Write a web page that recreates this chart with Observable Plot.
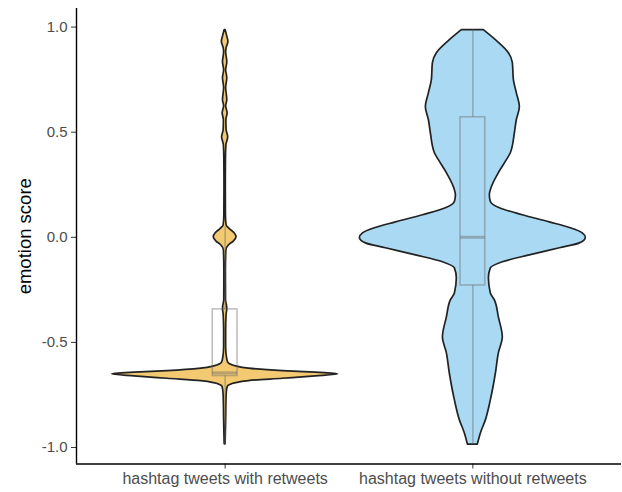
<!DOCTYPE html>
<html>
<head>
<meta charset="utf-8">
<script src="https://cdn.jsdelivr.net/npm/d3@7"></script>
<script src="https://cdn.jsdelivr.net/npm/@observablehq/plot@0.6"></script>
<style>
  html, body { margin: 0; padding: 0; background: white; }
</style>
</head>
<body>
<div id="chart"></div>
<script>
// ---- data ----
const groups = ["hashtag tweets with retweets", "hashtag tweets without retweets"];
const groupPos = [1, 2];
const fills = ["#F3C972", "#AAD9F3"];

// violin profile: emotion score vs. relative density (max = 1)
const withRetweetsY = [0.986, 0.957, 0.929, 0.9, 0.881, 0.833, 0.795, 0.757, 0.71, 0.652, 0.624, 0.59, 0.557, 0.51, 0.476, 0.438, 0.367, 0.224, 0.105, 0.057, 0.038, 0.019, 0.0, -0.019, -0.038, -0.062, -0.157, -0.3, -0.324, -0.343, -0.367, -0.443, -0.514, -0.548, -0.571, -0.595, -0.614, -0.625, -0.637, -0.644, -0.652, -0.662, -0.673, -0.684, -0.694, -0.713, -0.752, -0.871, -0.985];
const withRetweetsDensity = [0.004, 0.018, 0.029, 0.013, 0.009, 0.019, 0.009, 0.019, 0.009, 0.019, 0.009, 0.022, 0.011, 0.013, 0.027, 0.011, 0.007, 0.006, 0.007, 0.013, 0.044, 0.084, 0.101, 0.079, 0.035, 0.011, 0.007, 0.008, 0.016, 0.019, 0.013, 0.009, 0.009, 0.011, 0.016, 0.026, 0.097, 0.211, 0.511, 0.802, 1.0, 0.802, 0.511, 0.211, 0.097, 0.022, 0.013, 0.009, 0.004];

const withoutRetweetsY = [0.986, 0.938, 0.876, 0.829, 0.748, 0.686, 0.619, 0.557, 0.495, 0.4, 0.367, 0.305, 0.238, 0.2, 0.168, 0.138, 0.105, 0.071, 0.043, 0.019, -0.003, -0.029, -0.052, -0.086, -0.119, -0.148, -0.195, -0.267, -0.3, -0.381, -0.476, -0.552, -0.648, -0.776, -0.871, -0.933, -0.986];
const withoutRetweetsDensity = [0.097, 0.204, 0.319, 0.354, 0.363, 0.389, 0.416, 0.389, 0.372, 0.336, 0.301, 0.23, 0.168, 0.15, 0.159, 0.239, 0.442, 0.681, 0.867, 0.973, 1.0, 0.947, 0.77, 0.504, 0.265, 0.159, 0.142, 0.159, 0.195, 0.23, 0.265, 0.23, 0.204, 0.159, 0.115, 0.071, 0.044];

// box plot summaries
const whiskerLow = [-0.985, -0.986];
const boxQ1 = [-0.66, -0.229];
const boxMedian = [-0.645, 0.0];
const boxQ3 = [-0.343, 0.571];
const whiskerHigh = [0.05, 0.986];

const yTicks = [-1, -0.5, 0, 0.5, 1];
const xDomain = [0.4, 2.6];
const yDomain = [-1.0785, 1.0885];
const violinHalfMax = 0.456;
const boxHalf = 0.05;

// ---- build tables ----
const violinRows = [];
[[withRetweetsY, withRetweetsDensity], [withoutRetweetsY, withoutRetweetsDensity]].forEach(([ys, ds], gi) => {
  ys.forEach((y, i) => violinRows.push({group: groups[gi], pos: groupPos[gi], y, d: ds[i]}));
});
const boxRows = groups.map((g, i) => ({
  group: g, pos: groupPos[i], lo: whiskerLow[i], q1: boxQ1[i], med: boxMedian[i], q3: boxQ3[i], hi: whiskerHigh[i]
}));

const boxStyle = {stroke: "#666", strokeOpacity: 0.42, strokeWidth: 1.6};

const chart = Plot.plot({
  width: 622,
  height: 492,
  marginLeft: 76,
  marginRight: 1,
  marginTop: 8,
  marginBottom: 28.5,
  x: {domain: xDomain},
  y: {domain: yDomain},
  color: {domain: groups, range: fills},
  style: {fontFamily: "'Liberation Sans', Arial, sans-serif", background: "white"},
  marks: [
    Plot.areaX(violinRows, {
      y: "y",
      x1: r => r.pos - r.d * violinHalfMax,
      x2: r => r.pos + r.d * violinHalfMax,
      z: "group",
      fill: "group",
      stroke: "#222",
      strokeWidth: 1.7,
      strokeLinejoin: "round",
      curve: "monotone-y"
    }),
    Plot.ruleX(boxRows, {x: "pos", y1: "q3", y2: "hi", ...boxStyle}),
    Plot.ruleX(boxRows, {x: "pos", y1: "lo", y2: "q1", ...boxStyle}),
    Plot.rect(boxRows, {x1: r => r.pos - boxHalf, x2: r => r.pos + boxHalf, y1: "q1", y2: "q3", fill: "none", ...boxStyle}),
    Plot.ruleY(boxRows, {y: "med", x1: r => r.pos - boxHalf, x2: r => r.pos + boxHalf, stroke: "#666", strokeOpacity: 0.42, strokeWidth: 3}),
    Plot.axisY({ticks: yTicks, tickFormat: d => d.toFixed(1), tickSize: 5, tickPadding: 4, fontSize: 15, stroke: "#333", fill: "#4d4d4d", label: null}),
    Plot.axisX({ticks: groupPos, tickFormat: d => groups[groupPos.indexOf(d)], tickSize: 5, tickPadding: 4, fontSize: 16, stroke: "#333", fill: "#4d4d4d", label: null}),
    Plot.ruleX([xDomain[0]], {stroke: "black", strokeWidth: 1.4}),
    Plot.ruleY([yDomain[0]], {stroke: "black", strokeWidth: 1.4}),
    Plot.text(["emotion score"], {frameAnchor: "left", dx: -51, rotate: -90, textAnchor: "middle", fontSize: 18.5, fill: "black"})
  ]
});
document.getElementById("chart").appendChild(chart);
</script>
</body>
</html>
